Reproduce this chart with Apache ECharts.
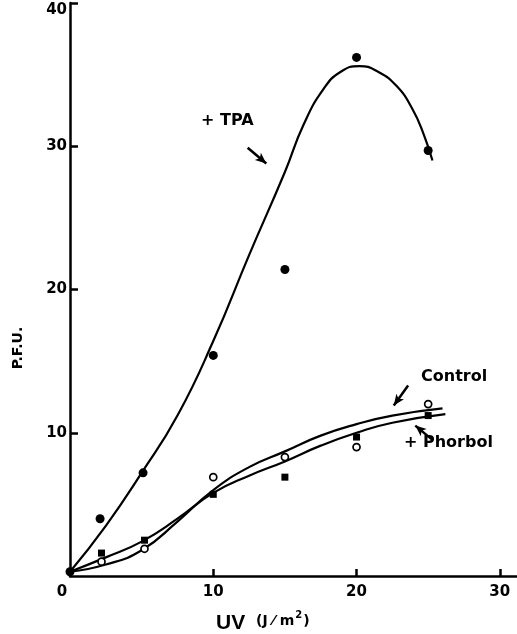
<!DOCTYPE html>
<html>
<head>
<meta charset="utf-8">
<script src="https://cdn.jsdelivr.net/npm/echarts@6/dist/echarts.min.js"></script>
<style>
  html, body { margin: 0; padding: 0; background: #fff; }
  #chart { width: 517px; height: 634px; }
</style>
</head>
<body>
<div id="chart"></div>
<script>
// Values. UV dose in J/m2, P.F.U. on the y axis.
const uvTicks = [0, 10, 20, 30];
const pfuTicks = [10, 20, 30, 40];

// Measured points
const tpaPoints = [[0, 0.3], [2.1, 4.0], [5.1, 7.2], [10, 15.4], [15, 21.4], [20, 36.2], [25, 29.7]];
const controlPoints = [[2.2, 1.0], [5.2, 1.9], [10, 6.9], [15, 8.3], [20, 9.0], [25, 12.0]];
const phorbolPoints = [[2.2, 1.6], [5.2, 2.5], [10, 5.7], [15, 6.9], [20, 9.7], [25, 11.2]];

// Hand-drawn fitted curves, traced along their length
const tpaCurve = [
  [0, 0.3], [2.5, 3.5], [5, 7.2], [7.5, 11.2], [10, 16.4], [12.5, 22.4], [15, 28.2],
  [16.3, 31.5], [17.7, 34.0], [18.9, 35.2], [20.2, 35.6], [21.5, 35.2], [22.8, 34.2],
  [23.9, 32.6], [24.7, 30.8], [25.3, 29.0],
];
const controlCurve = [
  [0, 0.3], [2.5, 0.8], [5, 1.8], [7.5, 3.8], [10, 6.0], [12.5, 7.6], [15, 8.7],
  [17.5, 9.8], [20, 10.6], [22.5, 11.2], [26, 11.7],
];
const phorbolCurve = [
  [0, 0.3], [2.5, 1.3], [5, 2.4], [7.5, 4.0], [10, 5.8], [12.5, 7.0], [15, 8.0],
  [17.5, 9.1], [20, 10.0], [22.5, 10.7], [26.2, 11.3],
];

// Pointer arrows beside the curve labels: [tail, head] in data units
const arrows = [
  [[12.4, 29.9], [13.7, 28.8]],
  [[23.6, 13.3], [22.6, 11.9]],
  [[25.3, 9.5], [24.1, 10.5]],
];

const INK = "#000";
const FONT = "DejaVu Sans";

function curve(data) {
  return {
    type: "line",
    data,
    smooth: 0.5,
    showSymbol: false,
    silent: true,
    lineStyle: { color: INK, width: 2.2 },
    z: 2,
  };
}

function points(data, symbol, size, filled) {
  return {
    type: "scatter",
    data,
    symbol,
    symbolSize: size,
    clip: false,
    itemStyle: filled
      ? { color: INK, opacity: 1 }
      : { color: "#fff", borderColor: INK, borderWidth: 1.7, opacity: 1 },
    z: 3,
  };
}

const labelStyle = { fontFamily: FONT, fontWeight: "bold", fontSize: 16, fill: INK };

const option = {
  animation: false,
  grid: { left: 70, right: 0, top: 3, bottom: 58 },
  xAxis: {
    type: "value",
    min: 0,
    max: 31.2,
    interval: 10,
    splitLine: { show: false },
    axisLine: { lineStyle: { color: INK, width: 2.5 } },
    axisTick: { inside: true, length: 7, lineStyle: { color: INK, width: 2.5 }, customValues: uvTicks },
    axisLabel: {
      customValues: uvTicks,
      margin: 9,
      color: INK,
      fontFamily: FONT,
      fontWeight: "bold",
      fontSize: 15,
      formatter: (v) => (v === 0 ? "{z|0}" : String(v)),
      rich: { z: { padding: [0, 16, 0, 0], fontFamily: FONT, fontWeight: "bold", fontSize: 15, color: INK } },
    },
  },
  yAxis: {
    type: "value",
    min: 0,
    max: 40,
    interval: 10,
    splitLine: { show: false },
    axisLine: { lineStyle: { color: INK, width: 2.5 } },
    axisTick: { inside: true, length: 8, lineStyle: { color: INK, width: 2.5 }, customValues: pfuTicks },
    axisLabel: {
      customValues: pfuTicks,
      margin: 3,
      color: INK,
      fontFamily: FONT,
      fontWeight: "bold",
      fontSize: 15,
      formatter: (v) => (v === 40 ? "{t|40}" : String(v)),
      rich: { t: { padding: [14, 0, 0, 0], fontFamily: FONT, fontWeight: "bold", fontSize: 15, color: INK } },
    },
  },
  series: [
    curve(tpaCurve),
    curve(controlCurve),
    curve(phorbolCurve),
    points(tpaPoints, "circle", 9, true),
    points(controlPoints, "circle", 7, false),
    points(phorbolPoints, "rect", 7, true),
    {
      type: "scatter",
      data: [],
      markLine: {
        silent: true,
        animation: false,
        symbol: ["none", "arrow"],
        symbolSize: [7, 11],
        label: { show: false },
        lineStyle: { color: INK, width: 2.5, type: "solid" },
        data: arrows.map(([a, b]) => [{ coord: a }, { coord: b }]),
      },
    },
  ],
  graphic: [
    { type: "text", left: 201, top: 113, style: { ...labelStyle, text: "+ TPA" } },
    { type: "text", left: 421, top: 369, style: { ...labelStyle, text: "Control" } },
    { type: "text", left: 404, top: 435, style: { ...labelStyle, text: "+ Phorbol" } },
    {
      type: "text",
      x: 18,
      y: 348,
      rotation: Math.PI / 2,
      style: { ...labelStyle, fontSize: 14, text: "P.F.U.", align: "center", verticalAlign: "middle" },
    },
    {
      type: "text",
      left: 216,
      top: 613,
      style: { fontFamily: "Liberation Sans", fontWeight: "bold", fontSize: 21, fill: INK, text: "UV" },
    },
    {
      type: "text",
      left: 256,
      top: 610,
      style: {
        text: "{b|(J ⁄ m}{s|2}{b|)}",
        rich: {
          b: { fontFamily: FONT, fontWeight: "bold", fontSize: 14, color: INK, padding: [6, 0, 0, 0] },
          s: { fontFamily: FONT, fontWeight: "bold", fontSize: 10, color: INK, padding: [0, 1, 6, 1] },
        },
      },
    },
  ],
};

const chart = echarts.init(document.getElementById("chart"));
chart.setOption(option);
</script>
</body>
</html>
